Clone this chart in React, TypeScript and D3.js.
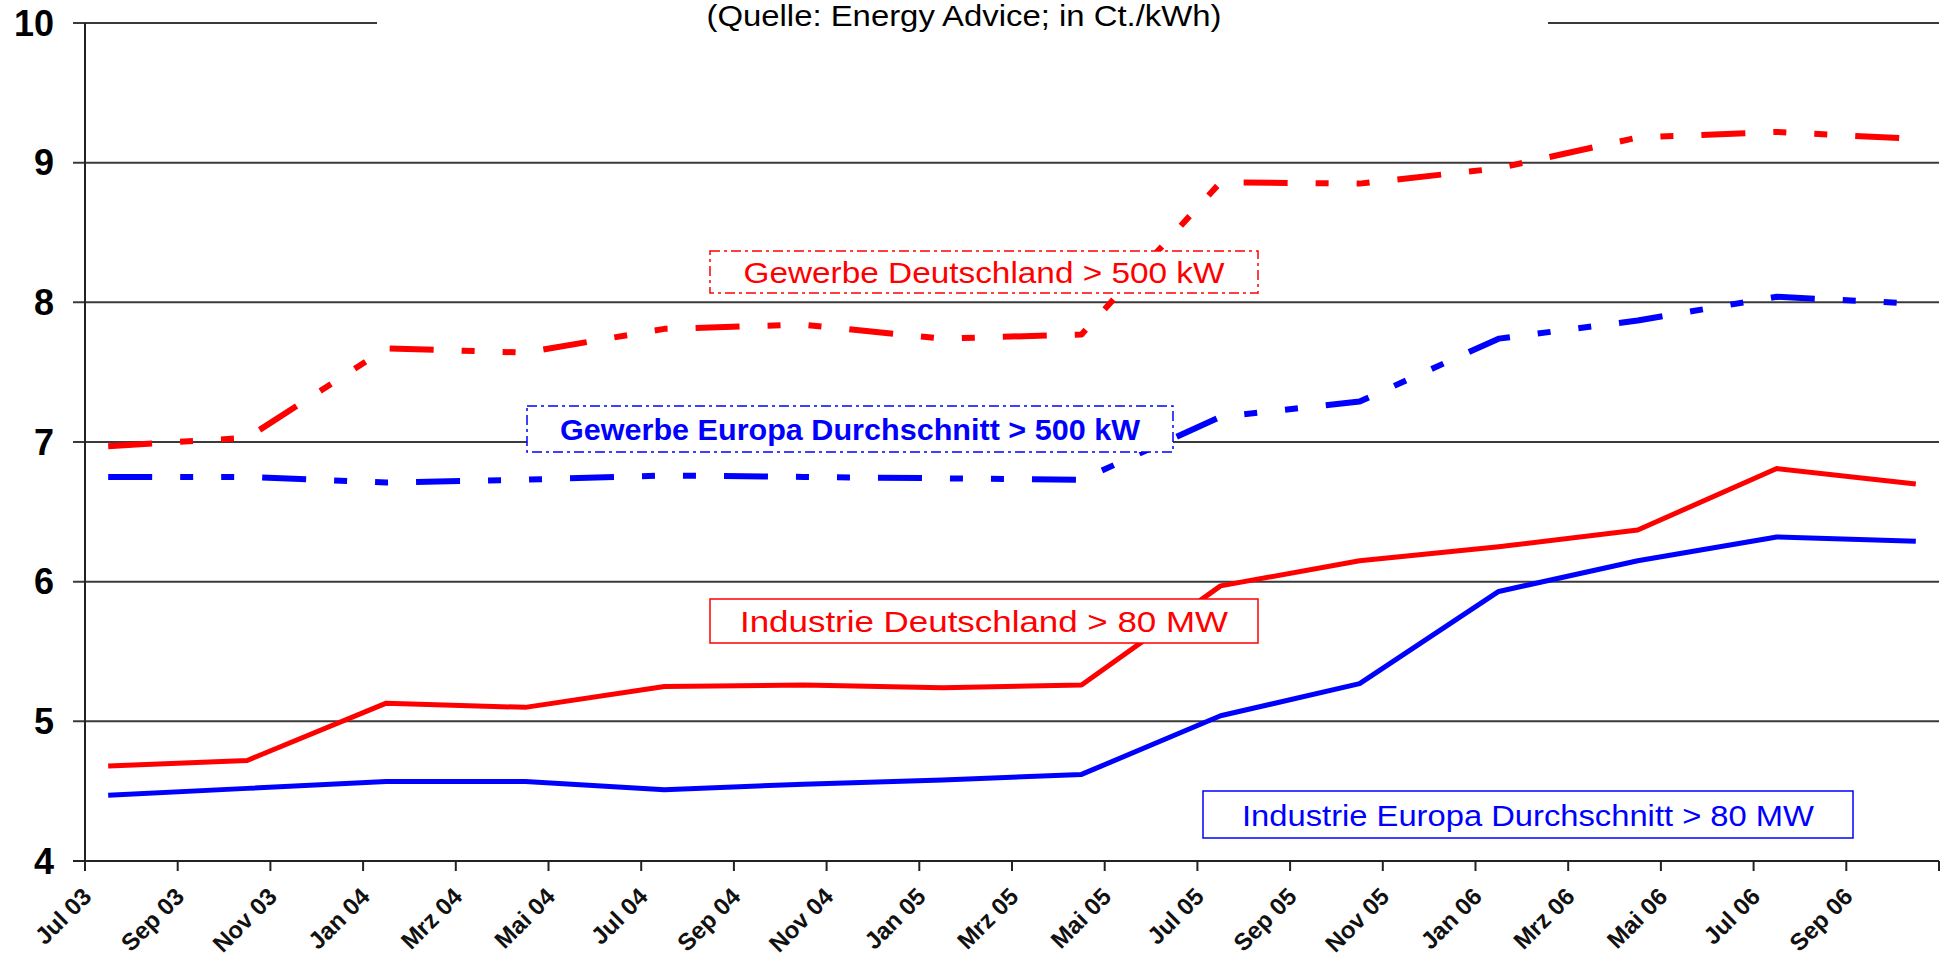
import { useEffect, useRef } from "react";
import * as d3 from "d3";

// monthly category axis, Jul 03 .. Okt 06
const monthNames = ["Jan", "Feb", "Mrz", "Apr", "Mai", "Jun", "Jul", "Aug", "Sep", "Okt", "Nov", "Dez"];
const startYear = 3;
const startMonth = 6; // Jul
const monthCount = 40;

// quarterly observations
const pointMonths = ["Jul 03", "Okt 03", "Jan 04", "Apr 04", "Jul 04", "Okt 04", "Jan 05", "Apr 05", "Jul 05", "Okt 05", "Jan 06", "Apr 06", "Jul 06", "Okt 06"];

const gewerbeDeutschland = [6.97, 7.03, 7.67, 7.64, 7.81, 7.84, 7.74, 7.77, 8.86, 8.85, 8.96, 9.18, 9.22, 9.17];
const gewerbeEuropa = [6.75, 6.75, 6.71, 6.73, 6.76, 6.75, 6.74, 6.73, 7.18, 7.29, 7.74, 7.87, 8.04, 7.99];
const industrieDeutschland = [4.68, 4.72, 5.13, 5.10, 5.25, 5.26, 5.24, 5.26, 5.97, 6.15, 6.25, 6.37, 6.81, 6.70];
const industrieEuropa = [4.47, 4.52, 4.57, 4.57, 4.51, 4.55, 4.58, 4.62, 5.04, 5.27, 5.93, 6.15, 6.32, 6.29];

const yTicks = [4, 5, 6, 7, 8, 9, 10];

const title = "(Quelle: Energy Advice; in Ct./kWh)";

const legendItems = [
  { label: "Gewerbe Deutschland > 500 kW", color: "#ff0000", dashed: true, bold: false, x: 710, y: 251, w: 548, h: 42, tw: 481 },
  { label: "Gewerbe Europa Durchschnitt > 500 kW", color: "#0000ff", dashed: true, bold: true, x: 527, y: 406, w: 646, h: 46, tw: 580 },
  { label: "Industrie Deutschland > 80 MW", color: "#ff0000", dashed: false, bold: false, x: 710, y: 599, w: 548, h: 44, tw: 488 },
  { label: "Industrie Europa Durchschnitt > 80 MW", color: "#0000ff", dashed: false, bold: false, x: 1203, y: 791, w: 650, h: 47, tw: 572 },
];

const W = 1945;
const H = 960;
const FONT = "Liberation Sans, Arial, sans-serif";

export default function App() {
  const svgRef = useRef<SVGSVGElement | null>(null);

  useEffect(() => {
    if (!svgRef.current) return;
    const svg = d3.select(svgRef.current);
    svg.selectAll("*").remove();

    const left = 85;
    const right = 1939;
    const top = 23;
    const bottom = 861;

    const months = d3.range(monthCount).map((i) => {
      const m = (startMonth + i) % 12;
      const y = startYear + Math.floor((startMonth + i) / 12);
      return `${monthNames[m]} ${String(y).padStart(2, "0")}`;
    });

    const x = d3.scaleBand<string>().domain(months).range([left, right]).padding(0);
    const y = d3.scaleLinear().domain([4, 10]).range([bottom, top]);
    const bw = x.bandwidth();

    // gridlines
    const grid = svg.append("g");
    yTicks.forEach((t) => {
      grid
        .append("line")
        .attr("x1", left - 12)
        .attr("x2", right)
        .attr("y1", y(t))
        .attr("y2", y(t))
        .attr("stroke", t === 4 ? "#222" : "#3a3a3a")
        .attr("stroke-width", 2);
    });

    // title with white background covering top gridline
    svg
      .append("rect")
      .attr("x", 377)
      .attr("y", 0)
      .attr("width", 1548 - 377)
      .attr("height", 40)
      .attr("fill", "#fff");
    svg
      .append("text")
      .attr("x", 964)
      .attr("y", 26)
      .attr("text-anchor", "middle")
      .attr("font-family", FONT)
      .attr("font-size", 30)
      .attr("textLength", 515)
      .attr("lengthAdjust", "spacingAndGlyphs")
      .attr("fill", "#000")
      .text(title);

    // y axis
    svg
      .append("line")
      .attr("x1", left)
      .attr("x2", left)
      .attr("y1", top)
      .attr("y2", bottom)
      .attr("stroke", "#222")
      .attr("stroke-width", 2);

    svg
      .append("g")
      .selectAll("text")
      .data(yTicks)
      .join("text")
      .attr("x", 54)
      .attr("y", (d) => y(d) + 12.5)
      .attr("text-anchor", "end")
      .attr("font-family", FONT)
      .attr("font-weight", "bold")
      .attr("font-size", 36)
      .text((d) => d);

    // x ticks every two months, labels at tick positions
    const tickIdx = d3.range(0, monthCount + 1, 2);
    const tickX = (i: number) => (i < monthCount ? (x(months[i]) as number) : right);
    svg
      .append("g")
      .selectAll("line")
      .data(tickIdx)
      .join("line")
      .attr("x1", (i) => tickX(i))
      .attr("x2", (i) => tickX(i))
      .attr("y1", bottom)
      .attr("y2", bottom + 10)
      .attr("stroke", "#222")
      .attr("stroke-width", 2);

    svg
      .append("g")
      .selectAll("text")
      .data(tickIdx.filter((i) => i < monthCount))
      .join("text")
      .attr("transform", (i) => `translate(${tickX(i) + 8},${bottom + 37}) rotate(-45)`)
      .attr("text-anchor", "end")
      .attr("font-family", FONT)
      .attr("font-weight", "bold")
      .attr("font-size", 24)
      .attr("fill", "#111")
      .text((i) => months[i]);

    // series
    const series = [
      { values: gewerbeDeutschland, color: "#ff0000", dash: "44 28 13 28 13 28" },
      { values: gewerbeEuropa, color: "#0000ff", dash: "44 28 13 28 13 28" },
      { values: industrieDeutschland, color: "#ff0000", dash: null },
      { values: industrieEuropa, color: "#0000ff", dash: null },
    ];
    const line = d3
      .line<number>()
      .x((_, i) => (x(pointMonths[i]) as number) + bw / 2)
      .y((d) => y(d));

    series.forEach((s) => {
      svg
        .append("path")
        .attr("d", line(s.values))
        .attr("fill", "none")
        .attr("stroke", s.color)
        .attr("stroke-width", s.dash ? 6 : 5)
        .attr("stroke-linejoin", "round")
        .attr("stroke-dasharray", s.dash);
    });

    // legend boxes sit on top of the lines
    const lg = svg.append("g");
    legendItems.forEach((it) => {
      lg.append("rect")
        .attr("x", it.x)
        .attr("y", it.y)
        .attr("width", it.w)
        .attr("height", it.h)
        .attr("fill", "#fff")
        .attr("stroke", it.color)
        .attr("stroke-width", 1.5)
        .attr("stroke-dasharray", it.dashed ? "10 4 3 4" : null);
      lg.append("text")
        .attr("x", it.x + it.w / 2)
        .attr("y", it.y + it.h / 2 + 11)
        .attr("text-anchor", "middle")
        .attr("font-family", FONT)
        .attr("font-weight", it.bold ? "bold" : "normal")
        .attr("font-size", 30)
        .attr("textLength", it.tw)
        .attr("lengthAdjust", "spacingAndGlyphs")
        .attr("fill", it.color)
        .text(it.label);
    });
  }, []);

  return (
    <svg
      ref={svgRef}
      width={W}
      height={H}
      style={{ position: "absolute", left: 0, top: 0, background: "#fff", display: "block" }}
    />
  );
}
